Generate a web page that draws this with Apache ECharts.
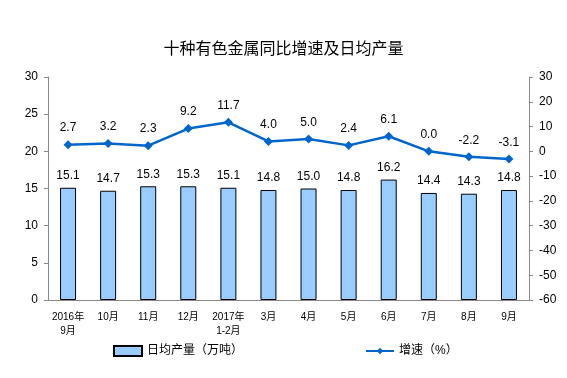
<!DOCTYPE html>
<html>
<head>
<meta charset="utf-8">
<script src="https://cdn.jsdelivr.net/npm/echarts@6/dist/echarts.min.js"></script>
<style>
html,body{margin:0;padding:0;background:#fff;}
#main{width:567px;height:378px;}
</style>
</head>
<body>
<div id="main"></div>
<script>
//月份
var months = ['2016年\n9月', '10月', '11月', '12月', '2017年\n1-2月', '3月', '4月', '5月', '6月', '7月', '8月', '9月'];
//日均产量（万吨）
var output = [15.1, 14.7, 15.3, 15.3, 15.1, 14.8, 15.0, 14.8, 16.2, 14.4, 14.3, 14.8];
//增速（%）
var growth = [2.7, 3.2, 2.3, 9.2, 11.7, 4.0, 5.0, 2.4, 6.1, 0.0, -2.2, -3.1];

var myChart = echarts.init(document.getElementById('main'));
var font = 'Arial, "Noto Sans CJK SC", sans-serif';
var option = {
	animation: false,
	backgroundColor: '#fff',
	title: {
		text: '十种有色金属同比增速及日均产量',
		left: 'center',
		top: 37,
		textStyle: {fontSize: 16, fontWeight: 'normal', color: '#000', fontFamily: font}
	},
	legend: [{
		left: 108,
		top: 340,
		itemWidth: 28,
		itemHeight: 10,
		data: [{name: '日均产量（万吨）', icon: 'rect'}],
		textStyle: {fontSize: 12, color: '#000', fontFamily: font}
	}, {
		left: 360,
		top: 340,
		itemWidth: 28,
		itemHeight: 8,
		data: ['增速（%）'],
		textStyle: {fontSize: 12, color: '#000', fontFamily: font}
	}],
	grid: {left: 48, right: 38, top: 77, bottom: 78},
	xAxis: [{
		type: 'category',
		data: months,
		axisLine: {lineStyle: {color: '#888'}},
		axisTick: {inside: true, length: 3, lineStyle: {color: '#888'}},
		axisLabel: {fontSize: 10, color: '#000', margin: 10, lineHeight: 14, fontFamily: font, interval: 0}
	}],
	yAxis: [{
		type: 'value',
		min: 0, max: 30, interval: 5,
		splitLine: {show: false},
		axisLine: {show: true, lineStyle: {color: '#888'}},
		axisTick: {show: true, length: 4, lineStyle: {color: '#888'}},
		axisLabel: {fontSize: 12, color: '#000', margin: 10, fontFamily: font}
	}, {
		type: 'value',
		min: -60, max: 30, interval: 10,
		position: 'right',
		splitLine: {show: false},
		axisLine: {show: true, lineStyle: {color: '#888'}},
		axisTick: {show: true, length: 4, lineStyle: {color: '#888'}},
		axisLabel: {fontSize: 12, color: '#000', margin: 10, fontFamily: font}
	}],
	series: [{
		name: '日均产量（万吨）',
		type: 'bar',
		barWidth: 16,
		data: output,
		itemStyle: {color: '#99CCFF', borderColor: '#000', borderWidth: 1},
		label: {show: true, position: 'top', fontSize: 12, color: '#000', distance: 6, fontFamily: font,
			formatter: function(p){ return p.value.toFixed(1); }}
	}, {
		name: '增速（%）',
		type: 'line',
		yAxisIndex: 1,
		data: growth,
		symbol: 'diamond',
		symbolSize: 9,
		itemStyle: {color: '#0066CC'},
		lineStyle: {color: '#0066CC', width: 2.5},
		label: {show: true, position: 'top', fontSize: 12, color: '#000', distance: 6, fontFamily: font,
			formatter: function(p){ return p.value.toFixed(1); }}
	}]
};
myChart.setOption(option);
</script>
</body>
</html>
